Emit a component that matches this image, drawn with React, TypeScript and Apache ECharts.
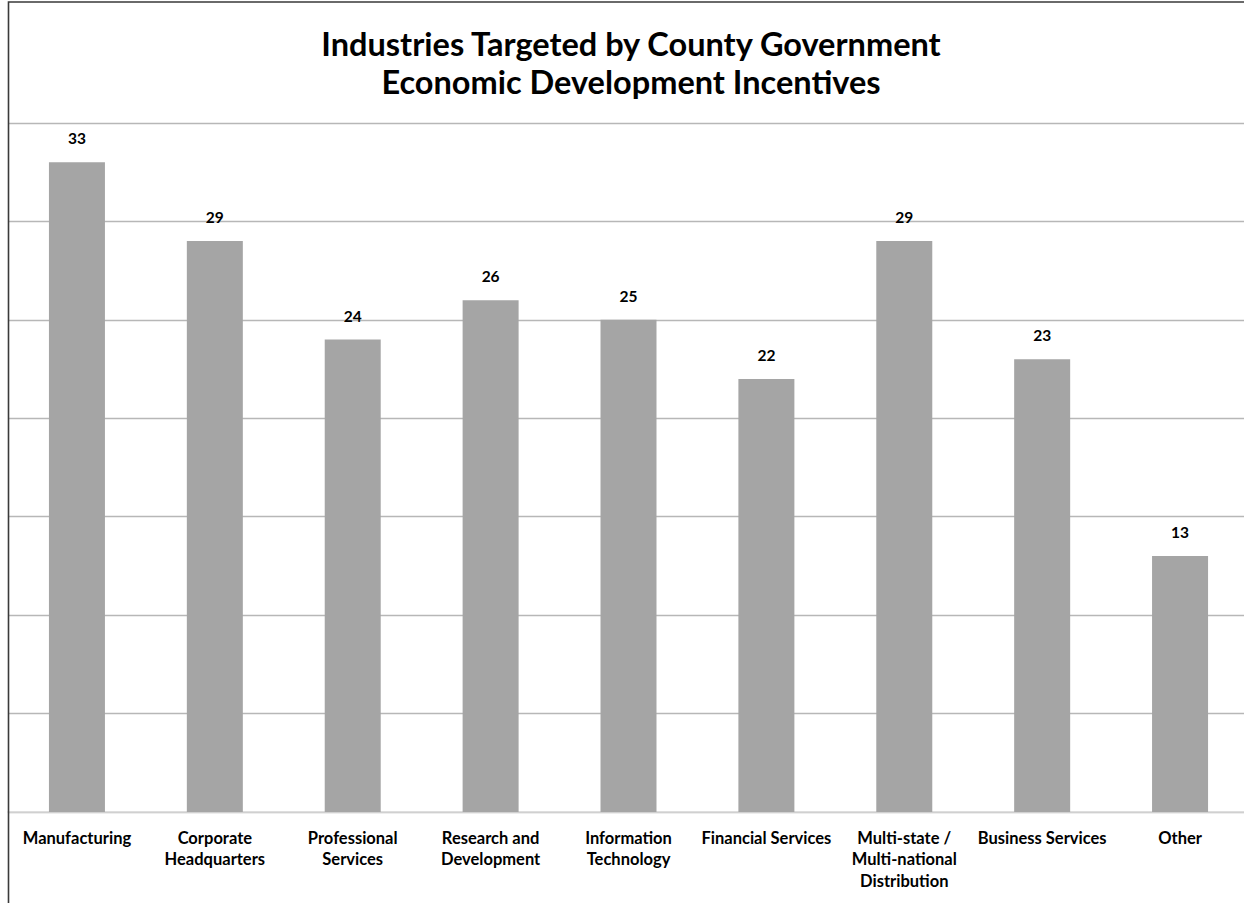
import React, { useEffect, useRef } from "react";
import * as echarts from "echarts";

const TITLE_LINES = ["Industries Targeted by County Government", "Economic Development Incentives"];
const CATEGORIES = [
  "Manufacturing",
  "Corporate\nHeadquarters",
  "Professional\nServices",
  "Research and\nDevelopment",
  "Information\nTechnology",
  "Financial Services",
  "Multi-state /\nMulti-national\nDistribution",
  "Business Services",
  "Other",
];
const VALUES = [33, 29, 24, 26, 25, 22, 29, 23, 13];
const Y_MIN = 0;
const Y_MAX = 35;
const Y_INTERVAL = 5;

const FONT = "Lato, 'Open Sans', sans-serif";

export default function App() {
  const ref = useRef<HTMLDivElement>(null);
  useEffect(() => {
    if (!ref.current) return;
    const chart = echarts.init(ref.current, undefined, { renderer: "svg" });
    chart.setOption({
      animation: false,
      backgroundColor: "#ffffff",
      title: {
        text: TITLE_LINES.join("\n"),
        left: 626,
        textAlign: "center",
        top: 19,
        textStyle: {
          fontFamily: FONT,
          fontWeight: "bold",
          fontSize: 32.5,
          lineHeight: 38,
          color: "#000000",
        },
      },
      graphic: [
        {
          type: "rect",
          shape: { x: 8.5, y: 2, width: 1400, height: 1200 },
          style: { fill: "none", stroke: "#3a3a3a", lineWidth: 1.6 },
          z: 100,
        },
      ],
      grid: { left: 8, right: 1, top: 123, bottom: 91, containLabel: false },
      xAxis: {
        type: "category",
        data: CATEGORIES,
        axisLine: { show: true, lineStyle: { color: "#d9d9d9", width: 1.5 } },
        axisTick: { show: false },
        axisLabel: {
          interval: 0,
          fontFamily: FONT,
          fontWeight: "bold",
          fontSize: 16.5,
          lineHeight: 21.5,
          color: "#000000",
          margin: 15,
        },
      },
      yAxis: {
        type: "value",
        min: Y_MIN,
        max: Y_MAX,
        interval: Y_INTERVAL,
        axisLine: { show: false },
        axisTick: { show: false },
        axisLabel: { show: false },
        splitLine: { show: true, lineStyle: { color: "#b7b7b7", width: 1.3 } },
      },
      series: [
        {
          type: "bar",
          data: VALUES,
          barWidth: 56,
          itemStyle: { color: "#a5a5a5" },
          label: {
            show: true,
            position: "top",
            distance: 16,
            fontFamily: FONT,
            fontWeight: "bold",
            fontSize: 15.5,
            color: "#000000",
          },
        },
      ],
    });
    return () => chart.dispose();
  }, []);
  return (
    <div style={{ position: "fixed", left: 0, top: 0, width: 1244, height: 903, overflow: "hidden", background: "#fff" }}>
      <div ref={ref} style={{ width: 1250, height: 903 }} />
    </div>
  );
}
